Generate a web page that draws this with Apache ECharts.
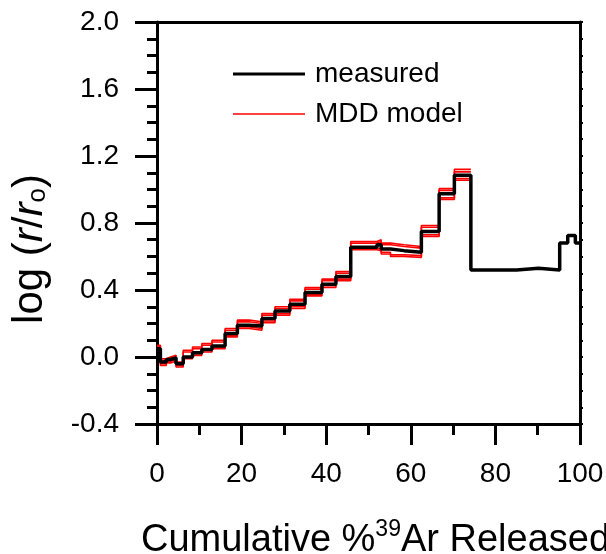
<!DOCTYPE html>
<html><head><meta charset="utf-8">
<script src="https://cdn.jsdelivr.net/npm/echarts@6/dist/echarts.min.js"></script>
<style>html,body{margin:0;padding:0;background:#fff}#c{width:606px;height:554px}</style>
</head><body><div id="c"></div>
<script>
// step boundaries (cumulative % 39Ar released)
const stepX = [0,0.8,2.2,3.2,4.5,6.2,8.4,10.6,13.0,16.1,19.0,21.8,24.8,27.9,31.4,35.0,39.0,42.3,45.8,52.0,53.0,55.2,58.4,62.5,66.7,70.3,74.2,85.0,90.2,95.2,97.1,98.9,100];
// measured log(r/ro) for each step
const measured = [0.05,-0.03,-0.015,-0.005,-0.04,0.0,0.025,0.045,0.065,0.14,0.19,0.185,0.23,0.275,0.315,0.385,0.435,0.48,0.655,0.67,0.645,0.635,0.625,0.75,0.975,1.085,0.52,0.53,0.52,0.68,0.725,0.68];
// MDD model runs (steps up to 74.2 %)
const modelA = [0.07,-0.01,0.0,0.01,-0.03,0.04,0.06,0.08,0.10,0.17,0.22,0.21,0.26,0.30,0.345,0.415,0.465,0.51,0.69,0.70,0.68,0.67,0.66,0.785,1.005,1.12];
const modelB = [0.065,-0.02,-0.01,0.0,-0.04,0.03,0.05,0.07,0.09,0.16,0.21,0.20,0.25,0.29,0.335,0.405,0.455,0.50,0.68,0.69,0.67,0.66,0.65,0.775,0.995,1.105];
const modelC = [0.055,-0.04,-0.025,-0.015,-0.05,0.0,0.02,0.04,0.06,0.13,0.18,0.17,0.215,0.26,0.30,0.375,0.425,0.465,0.65,0.645,0.625,0.61,0.605,0.73,0.95,1.065];
const modelD = [0.05,-0.05,-0.035,-0.025,-0.06,-0.01,0.01,0.03,0.05,0.12,0.17,0.16,0.205,0.25,0.29,0.365,0.415,0.455,0.64,0.635,0.615,0.60,0.595,0.72,0.94,1.055];
const xTicks = [0,20,40,60,80,100];
const yTicks = [-0.4,0.0,0.4,0.8,1.2,1.6,2.0];

function stepData(vals){
  const d = vals.map((v,i)=>[stepX[i], v]);
  d.push([stepX[vals.length], vals[vals.length-1]]);
  return d;
}
const F = 'Arial, "Liberation Sans", sans-serif';
const chart = echarts.init(document.getElementById('c'), null, {renderer:'canvas'});
const redSeries = [modelA, modelB, modelC, modelD].map(m => ({
  name:'MDD model', type:'line', step:'end', data: stepData(m), showSymbol:false, symbol:'none',
  lineStyle:{color:'#ff0000', width:1.6}, itemStyle:{color:'#ff0000'}, z:2
}));
chart.setOption({
  animation:false,
  grid:{left:157, right:26, top:22, bottom:130, containLabel:false, outerBoundsMode:'none'},
  legend:[
    {data:[{name:'measured', icon:'rect'}], left:228, top:55, itemWidth:72, itemHeight:3,
     textStyle:{fontFamily:F, fontSize:28, color:'#000', padding:[0,0,0,5]}},
    {data:[{name:'MDD model', icon:'rect'}], left:228, top:95, itemWidth:72, itemHeight:1.5,
     textStyle:{fontFamily:F, fontSize:28, color:'#000', padding:[0,0,0,5]}}
  ],
  xAxis:[{
    type:'value', min:0, max:100, interval:20, position:'bottom',
    axisLine:{show:true, onZero:false, lineStyle:{color:'#000', width:3}},
    axisTick:{show:true, inside:false, length:21, lineStyle:{width:3, color:'#000'}},
    minorTick:{show:true, splitNumber:2, length:11, lineStyle:{width:3, color:'#000'}},
    splitLine:{show:false},
    axisLabel:{margin:36, fontFamily:F, fontSize:28, color:'#000', formatter:v=>xTicks.includes(v)?String(v):''},
    name:'Cumulative %{sup|39}Ar Released', nameLocation:'middle', nameGap:94,
    nameTextStyle:{fontFamily:F, fontSize:38, color:'#000', padding:[0,0,0,14],
      rich:{sup:{fontFamily:F, fontSize:23, color:'#000', verticalAlign:'top', padding:[0,0,22,0]}}}
  },{
    type:'value', min:0, max:100, position:'top',
    axisLine:{show:true, onZero:false, lineStyle:{color:'#000', width:3}},
    axisTick:{show:false}, axisLabel:{show:false}, splitLine:{show:false}
  }],
  yAxis:[{
    type:'value', min:-0.4, max:2.0, interval:0.4,
    axisLine:{show:true, onZero:false, lineStyle:{color:'#000', width:3}},
    axisTick:{show:true, inside:false, length:22, lineStyle:{width:3, color:'#000'}},
    minorTick:{show:true, splitNumber:4, length:10, lineStyle:{width:3, color:'#000'}},
    splitLine:{show:false},
    axisLabel:{margin:38, fontFamily:F, fontSize:28, color:'#000', formatter:v=>yTicks.some(t=>Math.abs(t-v)<1e-6)?v.toFixed(1):''},
    name:'log ({it|r}/{it|r}{sub|o})', nameLocation:'middle', nameGap:106, nameRotate:90,
    nameTextStyle:{fontFamily:F, fontSize:42, color:'#000', padding:[0,52,0,0],
      rich:{it:{fontFamily:F, fontSize:42, fontStyle:'italic', color:'#000'},
            sub:{fontFamily:F, fontSize:26, color:'#000', verticalAlign:'bottom', padding:[16,0,0,0]}}}
  },{
    type:'value', min:-0.4, max:2.0, interval:0.1, position:'right',
    axisLine:{show:true, onZero:false, lineStyle:{color:'#000', width:3}},
    axisTick:{show:true, inside:false, length:3, lineStyle:{width:2, color:'#000'}},
    axisLabel:{show:false}, splitLine:{show:false}
  }],
  series:[...redSeries, {
    name:'measured', type:'line', step:'end', data: stepData(measured), showSymbol:false, symbol:'none',
    lineStyle:{color:'#000', width:3.5}, itemStyle:{color:'#000'}, z:3
  }]
});
</script></body></html>
